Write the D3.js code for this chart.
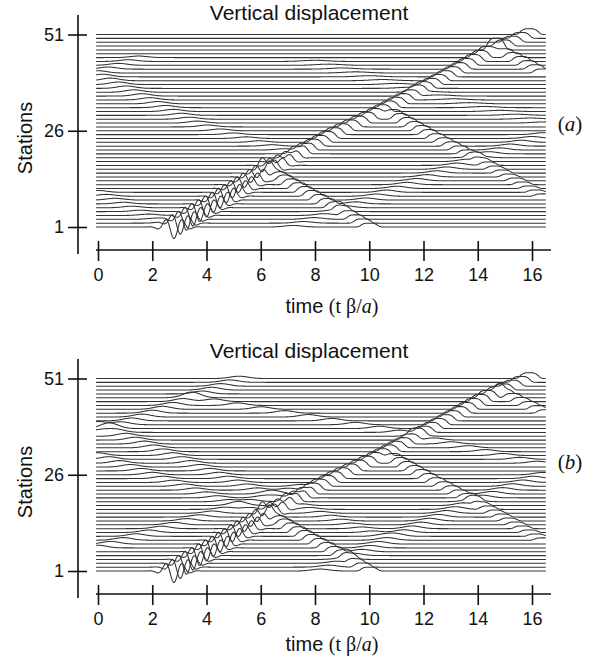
<!DOCTYPE html>
<html>
<head>
<script src="https://cdn.jsdelivr.net/npm/d3@7"></script>
<title>Vertical displacement</title>
<style>
  body { margin: 0; background: white; }
  svg { display: block; font-family: "Liberation Sans", Arial, sans-serif; }
  .trace { fill: none; stroke: #333; stroke-width: 1.05; }
  .axis line { stroke: #111; stroke-width: 1.6; }
</style>
</head>
<body>
<div id="chart"></div>
<script>
// ticks
const stationTicks = [1, 26, 51];
const timeTicks = [0, 2, 4, 6, 8, 10, 12, 14, 16];
const stations = d3.range(1, 52);

// phase picks: [station, arrival time, amplitude in station spacings]
const mainRing = [[1, 2.8, 3.0], [4, 3.5, 3.0], [8, 4.5, 2.6], [12, 5.4, 1.9], [16, 6.3, 1.2], [19, 7.1, 0.4], [22, 7.9, 0]];
const mainBump = [[1, 2.7, 0], [8, 4.5, 0.6], [12, 5.4, 1.2], [16, 6.3, 1.6], [20, 7.4, 1.8], [25, 8.7, 1.8],
                  [30, 10.2, 1.8], [35, 11.5, 1.6], [40, 12.8, 1.6], [46, 14.35, 1.9], [48, 14.95, 1.6], [51, 15.9, 1.5]];
const reflUpperA = [[9, 16.4, 0.6], [15, 14.9, 0.8], [20, 13.6, 1.0], [25, 12.2, 1.3], [30, 10.9, 1.5]];
const reflTopA = [[40.5, 16.5, 1.0], [44, 15.6, 1.3], [47, 14.7, 1.3]];
const reflLower = [[1, 10.0, 1.0], [5, 9.0, 1.3], [9, 7.9, 1.5], [13, 6.9, 1.5], [16, 6.2, 1.1]];
const slowA = [[1, 7.2, 0.4], [10.4, 10.8, 0.6], [18, 13.6, 0.6], [25, 16.4, 0.5]];
const earlyDownA = [[19.7, 7.5, 0.3], [27.5, 3.8, 0.5], [40.6, 0.0, 0.7]];
const earlyUpA = [[41, 0.0, 0.6], [45, 1.5, 0.4]];
const earlyLowA = [[2, 2.5, 0.3], [10, 0.0, 0.5]];
const faintA = [[28, 16.5, 0.3], [36, 12.0, 0.3], [44, 8.0, 0.3]];

const reflTopB = [[42, 16.5, 0.9], [47.6, 14.8, 1.2]];
const slowB = [[1, 8.2, 0.5], [9.5, 10.8, 0.7], [19, 13.8, 0.7], [26, 16.4, 0.6]];
const crossUpB = [[36.7, 0.0, 0.7], [45.7, 3.4, 0.8], [51, 5.2, 0.6]];
const crossDownB = [[10, 10.5, 0.4], [22.7, 5.6, 0.6], [39, 0.0, 0.8]];
const crossMidB = [[17, 5.6, 0.5], [31, 0.0, 0.7]];
const crossLowB = [[7, 0.0, 0.7], [23, 7.5, 0.5]];
const topReturnB = [[28.5, 16.5, 0.5], [37.5, 10.8, 0.6], [46, 3.4, 0.7]];

const phasesA = [
  {picks: mainRing, shape: "ring", w: 0.32},
  {picks: mainBump, shape: "box", w: 0.3},
  {picks: reflUpperA, shape: "box", w: 0.28},
  {picks: reflTopA, shape: "box", w: 0.28},
  {picks: reflLower, shape: "box", w: 0.28},
  {picks: slowA, shape: "bump", w: 0.32},
  {picks: earlyDownA, shape: "bump", w: 0.32},
  {picks: earlyUpA, shape: "bump", w: 0.32},
  {picks: earlyLowA, shape: "bump", w: 0.32},
  {picks: faintA, shape: "bump", w: 0.45}
];
const phasesB = [
  {picks: mainRing, shape: "ring", w: 0.32},
  {picks: mainBump, shape: "box", w: 0.3},
  {picks: reflUpperA, shape: "box", w: 0.28},
  {picks: reflTopB, shape: "box", w: 0.28},
  {picks: reflLower, shape: "box", w: 0.28},
  {picks: slowB, shape: "bump", w: 0.32},
  {picks: crossUpB, shape: "bump", w: 0.32},
  {picks: crossDownB, shape: "bump", w: 0.32},
  {picks: crossMidB, shape: "bump", w: 0.32},
  {picks: crossLowB, shape: "bump", w: 0.32},
  {picks: topReturnB, shape: "bump", w: 0.32}
];

const wavelets = {
  bump: (tau, w) => Math.exp(-tau * tau / (2 * w * w)),
  box: (tau, w) => Math.exp(-0.5 * Math.pow(tau / w, 4)),
  ring: (tau, w) => -Math.cos(2 * Math.PI * tau / (2 * w)) * Math.exp(-tau * tau / (2 * w * w))
};

const W = 600, H = 666;
const svg = d3.select("#chart").append("svg").attr("width", W).attr("height", H);

const times = d3.range(-0.07, 16.52, 0.02);

function traceData(s, phases) {
  const parts = [];
  phases.forEach(p => {
    const pk = p.picks.slice().sort((a, b) => a[0] - b[0]);
    const s0 = pk[0][0], s1 = pk[pk.length - 1][0];
    if (s < s0 || s > s1) return;
    const tAt = d3.scaleLinear().domain(pk.map(d => d[0])).range(pk.map(d => d[1]));
    const aAt = d3.scaleLinear().domain(pk.map(d => d[0])).range(pk.map(d => d[2]));
    parts.push({t0: tAt(s), a: aAt(s), w: p.w, f: wavelets[p.shape]});
  });
  return times.map(t => {
    let v = 0;
    parts.forEach(q => { v += q.a * q.f(t - q.t0, q.w); });
    return [t, v];
  });
}

function drawPanel(dy, tdy, phases, tag) {
  const x = d3.scaleLinear().domain([0, 16]).range([98, 532]);
  const y = d3.scaleLinear().domain([1, 51]).range([227 + dy, 34.5 + dy]);
  const g = svg.append("g");

  // traces
  stations.forEach(s => {
    const line = d3.line().x(d => x(d[0])).y(d => y(s + d[1]));
    g.append("path").attr("class", "trace").attr("d", line(traceData(s, phases)));
  });

  // y axis
  const ya = g.append("g").attr("class", "axis").attr("transform", "translate(78,0)")
    .call(d3.axisLeft(y).tickValues(stationTicks).tickSize(10).tickPadding(4));
  ya.select(".domain").remove();
  ya.append("line").attr("x1", 0).attr("x2", 0).attr("y1", 15 + dy).attr("y2", 254 + dy);
  ya.selectAll(".tick line").attr("x1", 9).attr("x2", -10);
  ya.selectAll(".tick text").attr("x", -14).attr("font-size", 18)
    .attr("font-family", "Liberation Sans, Arial, sans-serif").attr("fill", "#111");

  // x axis
  const xa = g.append("g").attr("class", "axis").attr("transform", `translate(0,${250 + dy})`)
    .call(d3.axisBottom(x).tickValues(timeTicks).tickSize(10));
  xa.select(".domain").remove();
  xa.append("line").attr("x1", 96).attr("x2", 551).attr("y1", 0).attr("y2", 0);
  xa.selectAll(".tick line").attr("y1", -9).attr("y2", 11);
  xa.selectAll(".tick text").attr("y", 31).attr("dy", 0).attr("font-size", 18)
    .attr("font-family", "Liberation Sans, Arial, sans-serif").attr("fill", "#111");

  // titles
  g.append("text").attr("x", 309).attr("y", 20 + tdy).attr("text-anchor", "middle")
    .attr("font-size", 21).attr("fill", "#111").text("Vertical displacement");
  g.append("text").attr("transform", `translate(32,${138 + dy}) rotate(-90)`)
    .attr("text-anchor", "middle").attr("font-size", 20).attr("fill", "#111").text("Stations");

  const xt = g.append("text").attr("x", 332).attr("y", 313 + tdy).attr("text-anchor", "middle")
    .attr("font-size", 20).attr("fill", "#111");
  xt.append("tspan").text("time ");
  xt.append("tspan").attr("font-family", "Liberation Serif, Times New Roman, serif").text("(t β/");
  xt.append("tspan").attr("font-family", "Liberation Serif, Times New Roman, serif").attr("font-style", "italic").text("a");
  xt.append("tspan").attr("font-family", "Liberation Serif, Times New Roman, serif").text(")");

  const lt = g.append("text").attr("x", 570).attr("y", 131 + tdy).attr("text-anchor", "middle")
    .attr("font-size", 21).attr("fill", "#111").attr("font-family", "Liberation Serif, Times New Roman, serif");
  lt.append("tspan").text("(");
  lt.append("tspan").attr("font-style", "italic").text(tag);
  lt.append("tspan").text(")");
}

drawPanel(0, 0, phasesA, "a");
drawPanel(344, 338, phasesB, "b");
</script>
</body>
</html>
